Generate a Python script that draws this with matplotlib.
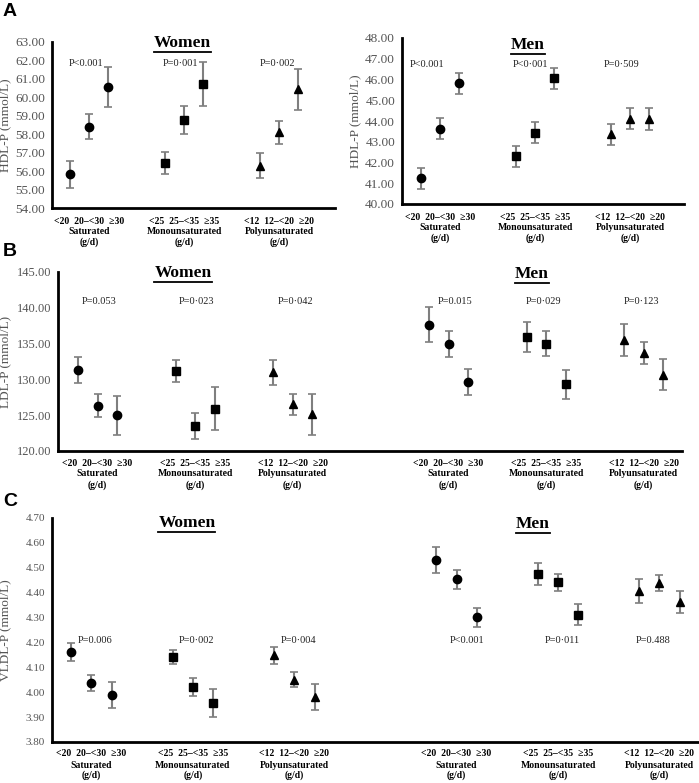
import matplotlib
matplotlib.use('Agg')
import matplotlib.pyplot as plt
from matplotlib.lines import Line2D
from matplotlib.transforms import blended_transform_factory
from matplotlib.ticker import FormatStrFormatter, MultipleLocator

SERIF = ['Liberation Serif', 'DejaVu Serif']
plt.rcParams['font.family'] = SERIF

# ---------------- data ----------------
groups = ['Saturated', 'Monounsaturated', 'Polyunsaturated']
group_ticks = ['<20  20–<30  ≥30', '<25  25–<35  ≥35', '<12  12–<20  ≥20']
unit = '(g/d)'
markers = ['o', 's', '^']

# Panel A: HDL-P
hdl_w_mean = [55.83, 58.40, 60.56, 56.43, 58.76, 60.73, 56.30, 58.11, 60.44]
hdl_w_err = [0.74, 0.68, 1.06, 0.60, 0.76, 1.18, 0.70, 0.62, 1.10]
hdl_w_p = ['P<0.001', 'P=0·001', 'P=0·002']
hdl_m_mean = [41.24, 43.62, 45.81, 42.30, 43.44, 46.05, 43.36, 44.12, 44.10]
hdl_m_err = [0.50, 0.51, 0.52, 0.50, 0.51, 0.52, 0.50, 0.50, 0.51]
hdl_m_p = ['P<0.001', 'P<0·001', 'P=0·509']

# Panel B: LDL-P
ldl_w_mean = [131.29, 126.32, 124.97, 131.20, 123.49, 125.90, 131.00, 126.50, 125.10]
ldl_w_err = [1.86, 1.63, 2.70, 1.50, 1.86, 3.00, 1.74, 1.50, 2.80]
ldl_w_p = ['P=0.053', 'P=0·023', 'P=0·042']
ldl_m_mean = [137.61, 134.96, 129.66, 135.94, 134.96, 129.29, 135.50, 133.70, 130.64]
ldl_m_err = [2.44, 1.77, 1.86, 2.05, 1.75, 1.97, 2.20, 1.53, 2.14]
ldl_m_p = ['P=0.015', 'P=0·029', 'P=0·123']

# Panel C: VLDL-P
vldl_w_mean = [4.161, 4.038, 3.988, 4.141, 4.020, 3.957, 4.148, 4.051, 3.980]
vldl_w_err = [0.036, 0.032, 0.052, 0.029, 0.036, 0.057, 0.033, 0.030, 0.053]
vldl_w_p = ['P=0.006', 'P=0·002', 'P=0·004']
vldl_m_mean = [4.532, 4.453, 4.301, 4.476, 4.441, 4.312, 4.406, 4.437, 4.362]
vldl_m_err = [0.051, 0.037, 0.039, 0.044, 0.036, 0.041, 0.047, 0.032, 0.045]
vldl_m_p = ['P<0.001', 'P=0·011', 'P=0.488']

# ---------------- layout ----------------
W, H = 699, 783
fig = plt.figure(figsize=(W / 100, H / 100), dpi=100)

def px_axes(l, r, t, b):
    return fig.add_axes([l / W, 1 - b / H, (r - l) / W, (b - t) / H])

TICK_C = '#555555'
ECOL = '#7f7f7f'

def style_axes(ax, ylo, yhi, step, ylabel, fontsize_tick, label_x_px, left_px, width_px):
    for s in ['top', 'right']:
        ax.spines[s].set_visible(False)
    for s in ['left', 'bottom']:
        ax.spines[s].set_linewidth(2.0)
        ax.spines[s].set_color('black')
    ax.set_ylim(ylo, yhi)
    ax.yaxis.set_major_locator(MultipleLocator(step))
    ax.yaxis.set_major_formatter(FormatStrFormatter('%.2f'))
    ax.tick_params(axis='y', length=0, pad=5, labelsize=fontsize_tick, labelcolor=TICK_C)
    ax.set_xticks([])
    ax.set_ylabel(ylabel, fontsize=9.5, color=TICK_C)
    ax.yaxis.set_label_coords((label_x_px - left_px) / width_px, 0.5)

def draw_series(ax, start, means, errs):
    for g in range(3):
        idx = list(range(g * 3, g * 3 + 3))
        xs = [start + g * 5 + k for k in range(3)]
        ax.errorbar(xs, [means[i] for i in idx], yerr=[errs[i] for i in idx],
                    fmt=markers[g], color='black', ecolor=ECOL, elinewidth=1.5,
                    capsize=3, capthick=1.2, markersize=6 if g != 1 else 5.5,
                    linestyle='none', zorder=3)

def draw_group_labels(ax, start, offs_px):
    trans = blended_transform_factory(ax.transData, ax.transAxes)
    for g in range(3):
        xc = start + g * 5 + 1
        for txt, off in zip([group_ticks[g], groups[g], unit], offs_px):
            ax.annotate(txt, xy=(xc, 0), xycoords=trans, xytext=(0, -off * 0.72),
                        textcoords='offset points', ha='center', va='center',
                        fontsize=7, fontweight='bold', annotation_clip=False)

def draw_p(ax, xs, y, labels):
    for x, t in zip(xs, labels):
        ax.text(x, y, t, ha='center', va='center', fontsize=7.5, color='#222222')

titles = []
def draw_title(ax, x, y_px, text):
    trans = blended_transform_factory(ax.transData, fig.transFigure)
    t = ax.text(x, 1 - y_px / H, text, transform=trans, ha='center', va='center',
                fontsize=12.5, fontweight='bold')
    titles.append(t)

# Panel A - women
axAw = px_axes(52, 335, 42, 208)
axAw.set_xlim(-0.95, 13.95)
style_axes(axAw, 54, 63, 1, 'HDL-P (mmol/L)', 9.5, 11, 52, 283)
draw_series(axAw, 0, hdl_w_mean, hdl_w_err)
draw_p(axAw, [0.84, 5.79, 10.9], 61.85, hdl_w_p)
draw_group_labels(axAw, 0, [13, 24, 34])
draw_title(axAw, 5.9, 43, 'Women')

# Panel A - men
axAm = px_axes(402, 684, 38, 204)
axAm.set_xlim(-1.0, 13.84)
style_axes(axAm, 40, 48, 1, 'HDL-P (mmol/L)', 9.5, 361, 402, 282)
draw_series(axAm, 0, hdl_m_mean, hdl_m_err)
draw_p(axAm, [0.32, 5.74, 10.58], 46.71, hdl_m_p)
draw_group_labels(axAm, 0, [13, 24, 34])
draw_title(axAm, 5.63, 45, 'Men')

# Panel B
axB = px_axes(58, 682, 272, 451)
axB.set_xlim(-1.03, 30.97)
style_axes(axB, 120, 145, 5, 'LDL-P (mmol/L)', 9, 11, 58, 624)
draw_series(axB, 0, ldl_w_mean, ldl_w_err)
draw_series(axB, 18, ldl_m_mean, ldl_m_err)
draw_p(axB, [1.08, 6.05, 11.13], 140.9, ldl_w_p)
draw_p(axB, [19.33, 23.85, 28.87], 140.9, ldl_m_p)
draw_group_labels(axB, 0, [12, 23, 34])
draw_group_labels(axB, 18, [12, 23, 34])
draw_title(axB, 5.38, 273, 'Women')
draw_title(axB, 23.28, 274, 'Men')

# Panel C
axC = px_axes(52, 698, 518, 742)
axC.set_xlim(-0.94, 30.9)
style_axes(axC, 3.80, 4.70, 0.1, 'VLDL-P (mmol/L)', 8, 11, 52, 646)
draw_series(axC, 0, vldl_w_mean, vldl_w_err)
draw_series(axC, 18, vldl_m_mean, vldl_m_err)
draw_p(axC, [1.18, 6.16, 11.23], 4.207, vldl_w_p)
draw_p(axC, [19.5, 24.2, 28.67], 4.207, vldl_m_p)
draw_group_labels(axC, 0, [11, 23, 33])
draw_group_labels(axC, 18, [11, 23, 33])
draw_title(axC, 5.71, 523, 'Women')
draw_title(axC, 22.76, 524, 'Men')

# panel letters
for letter, y in [('A', 12), ('B', 252), ('C', 502)]:
    fig.text(3 / W, 1 - y / H, letter, ha='left', va='center', fontsize=14,
             fontweight='bold', family=['Liberation Sans', 'DejaVu Sans'])

# underline titles
fig.canvas.draw()
renderer = fig.canvas.get_renderer()
for t in titles:
    bb = t.get_window_extent(renderer)
    y = bb.y0 - 1.0
    fig.add_artist(Line2D([bb.x0 / W, bb.x1 / W], [y / H, y / H],
                          transform=fig.transFigure, color='black', linewidth=1.3))

fig.savefig('out.png', dpi=100)
